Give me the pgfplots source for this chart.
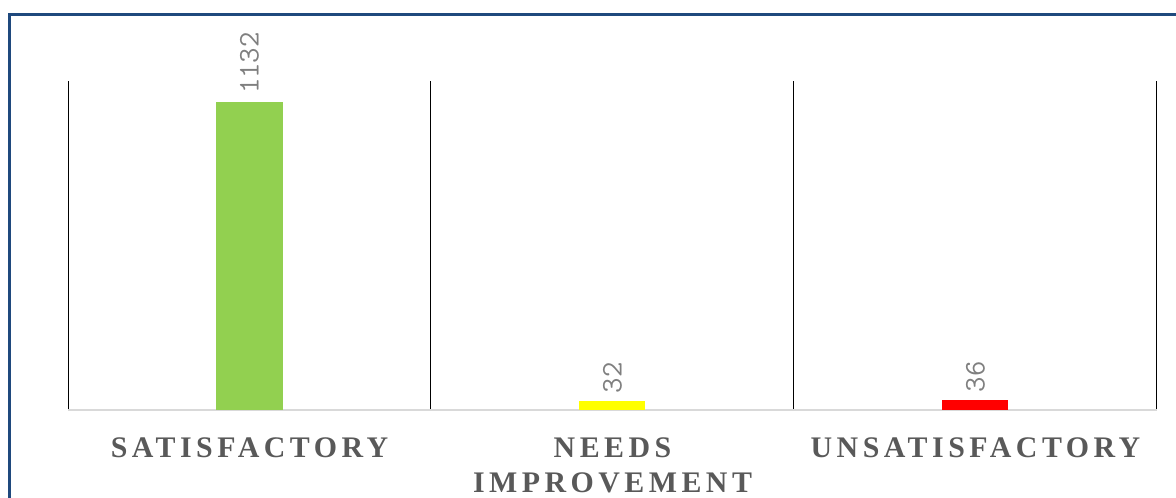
\documentclass[border=0pt]{standalone}
\usepackage{fontspec}
\usepackage{pgfplots}
\pgfplotsset{compat=1.18}
\newfontfamily\catfont[LetterSpace=15]{Liberation Serif}
\definecolor{framec}{RGB}{31,73,125}
\definecolor{catgray}{RGB}{89,89,89}
\definecolor{numgray}{RGB}{127,127,127}
\definecolor{barg}{RGB}{146,208,80}
\definecolor{bary}{RGB}{255,255,0}
\definecolor{barr}{RGB}{255,0,0}
\begin{document}
\begin{tikzpicture}[x=1bp,y=1bp]
\path[use as bounding box] (0,0) rectangle (1176,498);
\draw[framec, line width=3bp] (9.5,483.5) rectangle (1200,-30);
\begin{axis}[
  at={(68bp,88bp)}, anchor=south west,
  scale only axis, width=1089bp, height=329bp,
  xmin=-0.5, xmax=2.5, ymin=0, ymax=1210,
  ybar, bar width=66bp, bar shift=0pt,
  axis y line=none,
  axis x line*=bottom,
  x axis line style={draw=black!15, line width=2bp},
  xtick={0,1,2},
  xticklabels={SATISFACTORY, NEEDS\\IMPROVEMENT, UNSATISFACTORY},
  major tick length=0pt, minor tick length=0pt,
  minor xtick={-0.5,0.5,1.5,2.5},
  xminorgrids, minor grid style={black, line width=1bp},
  ytick=\empty,
  xticklabel style={font=\catfont\bfseries\fontsize{30}{35}\selectfont, text=catgray, align=center, inner sep=0pt, yshift=-28bp},
  clip=false,
  /pgf/number format/1000 sep={},
  /pgf/number format/assume math mode=true,
  nodes near coords,
  every node near coord/.append style={rotate=90, anchor=west, font=\ttfamily\fontsize{30}{30}\selectfont, text=numgray, inner xsep=8bp, inner ysep=0pt},
]
\addplot[fill=barg, draw=none] coordinates {(0,1132)};
\addplot[fill=bary, draw=none] coordinates {(1,32)};
\addplot[fill=barr, draw=none] coordinates {(2,36)};
\end{axis}
\end{tikzpicture}
\end{document}
